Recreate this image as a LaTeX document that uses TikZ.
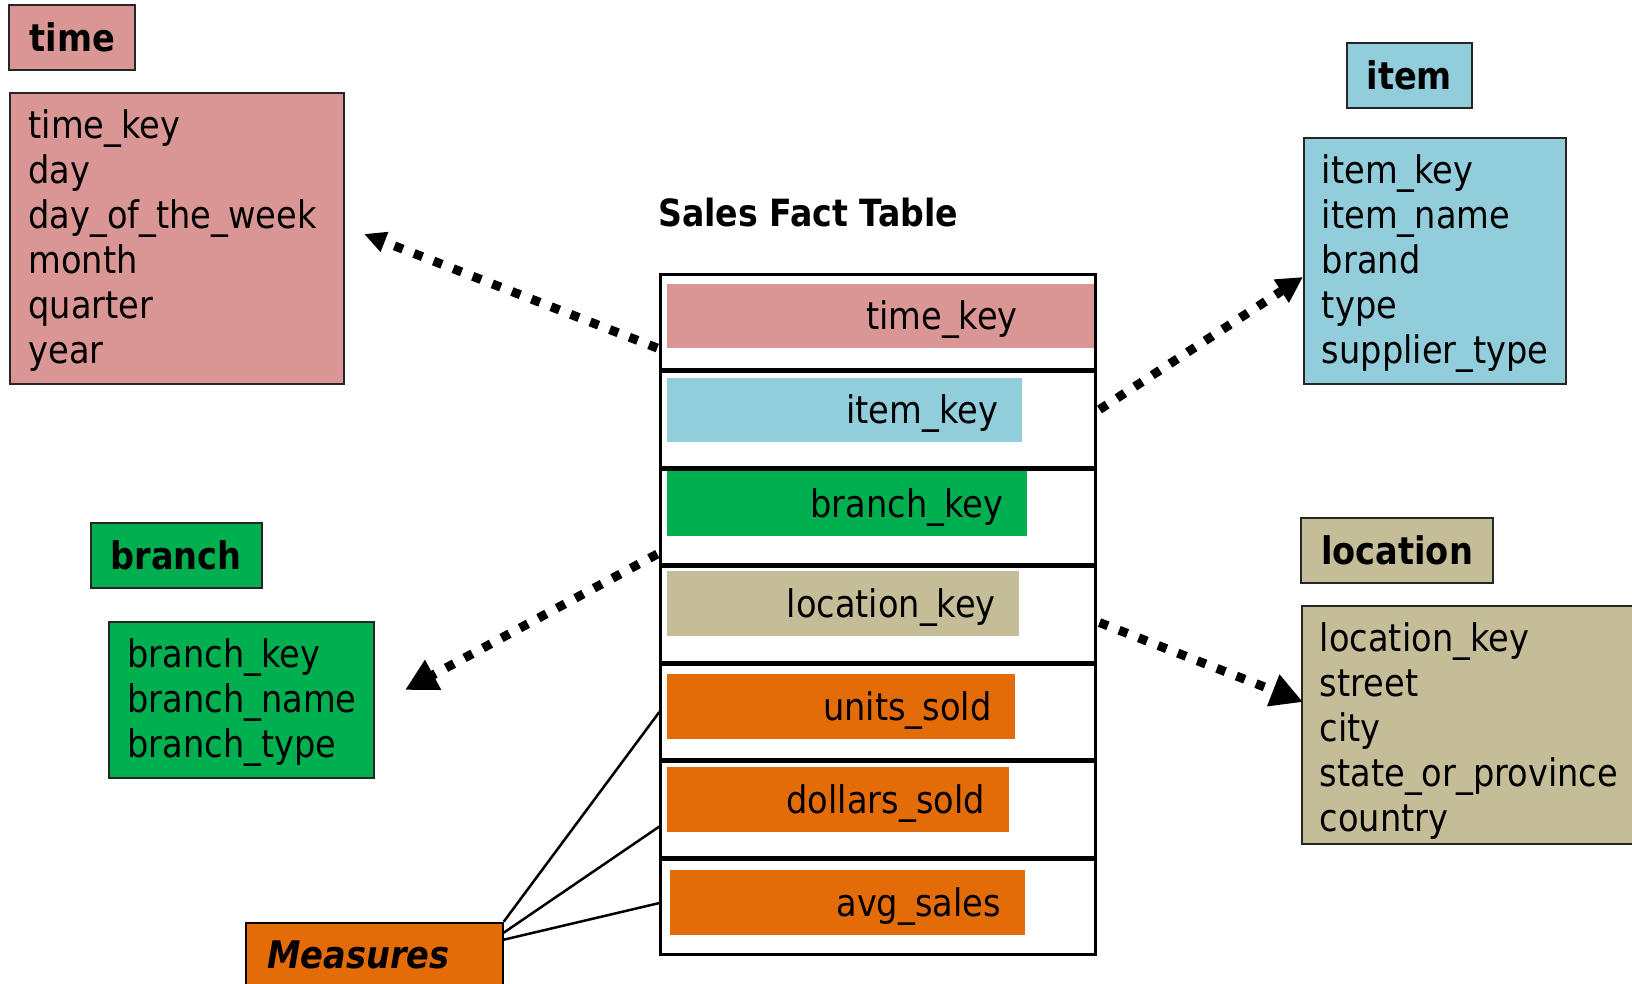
\documentclass[tikz,border=0pt]{standalone}
\usepackage{fontspec}
\setmainfont{DejaVu Sans}[FakeStretch=0.885]
\usetikzlibrary{arrows.meta,calc}

\definecolor{timecol}{HTML}{DA9694}
\definecolor{itemcol}{HTML}{92CDDC}
\definecolor{branchcol}{HTML}{00B050}
\definecolor{loccol}{HTML}{C4BD97}
\definecolor{meascol}{HTML}{E36C09}

\tikzset{
  txt/.style={font=\fontsize{38}{45}\selectfont},
  hdr/.style={draw=black!85, line width=2pt, minimum height=65pt, inner sep=0pt,
              font=\fontsize{38}{45}\selectfont\bfseries},
  attrbox/.style={draw=black!85, line width=2pt, anchor=north west, inner sep=0pt},
  attrtext/.style={txt, anchor=north west, inner sep=0pt, align=left},
  factrow/.style={draw=black, line width=2.5pt, anchor=north west,
                  minimum width=434.7pt, minimum height=95pt, inner sep=0pt},
  keybar/.style={anchor=north west, minimum height=64.5pt, inner sep=0pt},
  keytext/.style={txt, anchor=base east, inner sep=0pt},
  fklink/.style={line width=9pt, dash pattern=on 9pt off 12pt},
  measlink/.style={line width=2.5pt}
}

\begin{document}
\begin{tikzpicture}[x=1pt,y=-1pt]
\useasboundingbox (0,0) rectangle (1632,984);
\clip (0,0) rectangle (1632,984);

% dimension tables: title boxes
\node[hdr, fill=timecol,   minimum width=125.7pt] (timehdr)   at (72.2,37.5)   {time};
\node[hdr, fill=itemcol,   minimum width=125pt]   (itemhdr)   at (1409.2,75.2) {item};
\node[hdr, fill=branchcol, minimum width=171pt]   (branchhdr) at (176.2,555.2) {branch};
\node[hdr, fill=loccol,    minimum width=192.6pt] (lochdr)    at (1397,550.8)  {location};

% dimension tables: attribute boxes
\node[attrbox, fill=timecol, minimum width=333.4pt, minimum height=291pt] (timebox) at (9.3,92) {};
\node[attrtext] (timetext) at ($(timebox.north west)+(19,17.5)$)
  {time\_key\\day\\day\_of\_the\_week\\month\\quarter\\year};

\node[attrbox, fill=itemcol, minimum width=262.3pt, minimum height=246pt] (itembox) at (1302.7,137.3) {};
\node[attrtext] (itemtext) at ($(itembox.north west)+(19,17.5)$)
  {item\_key\\item\_name\\brand\\type\\supplier\_type};

\node[attrbox, fill=branchcol, minimum width=265pt, minimum height=155.7pt] (branchbox) at (108.3,621) {};
\node[attrtext] (branchtext) at ($(branchbox.north west)+(19,17.5)$)
  {branch\_key\\branch\_name\\branch\_type};

\node[attrbox, fill=loccol, minimum width=345pt, minimum height=238pt] (locbox) at (1300.7,605) {};
\node[attrtext] (loctext) at ($(locbox.north west)+(19,17.5)$)
  {location\_key\\street\\city\\state\_or\_province\\country};

% fact table
\node[anchor=base west, inner sep=0pt, font=\fontsize{37.5}{40}\selectfont\bfseries] (facttitle)
  at (658,226.7) {Sales Fact Table};

\foreach \n/\i in {timerow/0, itemrow/1, branchrow/2, locrow/3, unitsrow/4, dollarsrow/5, avgrow/6}
  \node[factrow] (\n) at (659.3,{273.3+97.5*\i}) {};

\foreach \n/\c/\l/\r/\t/\tr/\s in {
    timebar/timecol/666.7/1094/283.3/1018/time\_key,
    itembar/itemcol/666.7/1021.7/377.3/998.3/item\_key,
    branchbar/branchcol/666.7/1026.7/471/1003.3/branch\_key,
    locbar/loccol/666.7/1019/571/996/location\_key,
    unitsbar/meascol/666.7/1015/674/991.7/units\_sold,
    dollarsbar/meascol/666.7/1009/767/985/dollars\_sold,
    avgbar/meascol/670/1025/870/1001/avg\_sales}
{
  \node[keybar, fill=\c, minimum width={\r-\l}] (\n) at (\l,\t) {};
  \node[keytext] (\n txt) at (\tr,{\t+46.3}) {\s};
}

% measures
\node[draw=black, line width=2pt, fill=meascol, anchor=north west,
      minimum width=256.7pt, minimum height=80pt, inner sep=0pt] (meas) at (245,921.7) {};
\node[txt, anchor=base west, inner sep=0pt, font=\fontsize{38}{45}\selectfont\bfseries\itshape]
  (meastxt) at (267,968.3) {Measures};

\draw[measlink] (meas.north east) -- (unitsrow.west);
\draw[measlink] ($(meas.north east)+(0,11)$) -- ($(dollarsrow.west)+(0,17)$);
\draw[measlink] ($(meas.north east)+(0,18)$) -- ($(avgrow.west)+(0,-4)$);

% foreign key links
\coordinate (timetip)   at (364,234);
\coordinate (itemtip)   at (1303,277);
\coordinate (branchtip) at (405,690);
\coordinate (loctip)    at (1303,702);

\draw[fklink, -{Triangle[length=22pt,width=20pt]}] ($(timerow.west)+(-2,26)$) -- (timetip);
\draw[fklink, -{Triangle[length=26pt,width=26pt]}] ($(itemrow.east)+(3,-10)$) -- (itemtip);
\draw[fklink, -{Triangle[length=32pt,width=32pt]}] ($(branchrow.west)+(-2,37)$) -- (branchtip);
\draw[fklink, -{Triangle[length=32pt,width=32pt]}] ($(locrow.east)+(3,8)$) -- (loctip);

\end{tikzpicture}
\end{document}
